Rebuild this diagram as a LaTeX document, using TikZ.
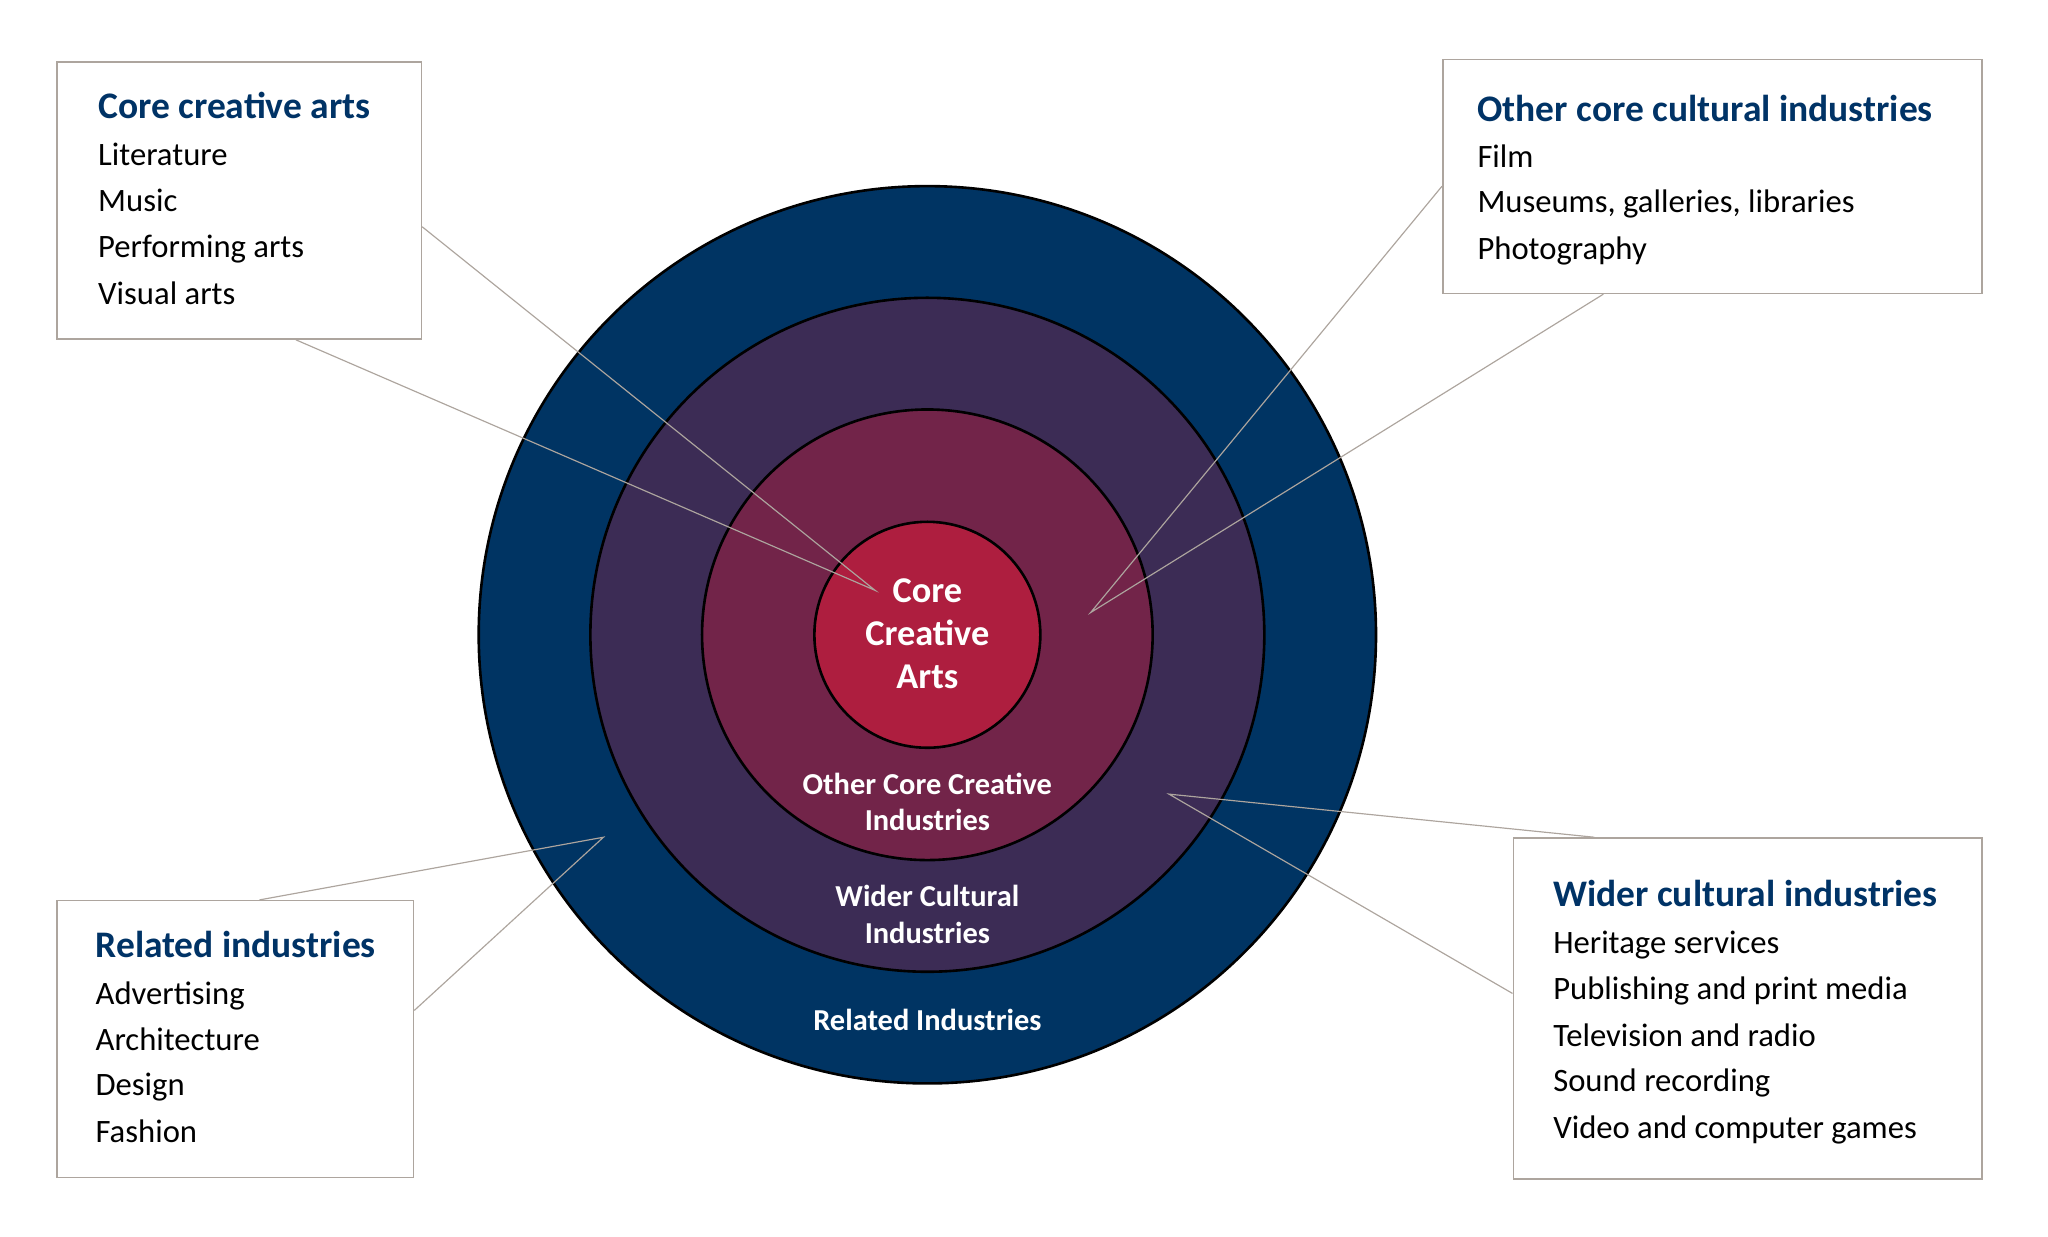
\documentclass[tikz,border=0pt]{standalone}
\usepackage{fontspec}
\setmainfont{Carlito}
\definecolor{navy}{HTML}{003463}
\definecolor{ringpurple}{HTML}{3C2C55}
\definecolor{ringplum}{HTML}{722449}
\definecolor{ringred}{HTML}{AE1E3F}
\definecolor{titleblue}{HTML}{003366}
\definecolor{linegrey}{HTML}{ADA59E}
\tikzset{
  ring/.style={circle, draw=black, line width=2pt, inner sep=0pt},
  infobox/.style={draw=linegrey, line width=1.2pt, fill=white, anchor=north west, inner sep=0pt},
  boxtitle/.style={anchor=base west, inner sep=0pt, text=titleblue, font=\fontsize{28.7}{34}\selectfont\bfseries},
  boxitem/.style={anchor=base west, inner sep=0pt, text=black, font=\fontsize{25}{30}\selectfont},
  ringlabel/.style={align=center, text=white, inner sep=0pt, font=\fontsize{23.3}{28}\selectfont\bfseries},
  corelabel/.style={align=center, text=white, inner sep=0pt, font=\fontsize{27.8}{33}\selectfont\bfseries},
  leader/.style={draw=linegrey, line width=0.9pt}
}
\begin{document}
\begin{tikzpicture}[x=1pt, y=-1pt]
\useasboundingbox (0,0) rectangle (1568,947);
% rings
\node[ring, fill=navy, minimum size=687pt] (r4) at (710,486) {};
\node[ring, fill=ringpurple, minimum size=516pt] (r3) at (710,486) {};
\node[ring, fill=ringplum, minimum size=345pt] (r2) at (710,486) {};
\node[ring, fill=ringred, minimum size=173pt] (r1) at (710,486) {};
% ring labels
\node[corelabel] (l1) at (710,485) {Core\\Creative\\Arts};
\node[ringlabel] (l2) at (710,614) {Other Core Creative\\Industries};
\node[ringlabel] (l3) at (710,700) {Wider Cultural\\Industries};
\node[ringlabel] (l4) at (710,781) {Related Industries};
% boxes
\node[infobox, minimum width=279pt, minimum height=212pt] (b1) at (43,47) {};
\node[infobox, minimum width=413pt, minimum height=179pt] (b2) at (1104,45) {};
\node[infobox, minimum width=273pt, minimum height=212pt] (b3) at (43,689) {};
\node[infobox, minimum width=359pt, minimum height=261pt] (b4) at (1158,641) {};
% box 1 text
\node[boxtitle] (t1) at (75,91) {Core creative arts};
\node[boxitem] (t1a) at (75,127) {Literature};
\node[boxitem] (t1b) at (75,162) {Music};
\node[boxitem] (t1c) at (75,197) {Performing arts};
\node[boxitem] (t1d) at (75,233) {Visual arts};
% box 2 text
\node[boxtitle] (t2) at (1131,93) {Other core cultural industries};
\node[boxitem] (t2a) at (1131,128) {Film};
\node[boxitem] (t2b) at (1131,163) {Museums, galleries, libraries};
\node[boxitem] (t2c) at (1131,199) {Photography};
% box 3 text
\node[boxtitle] (t3) at (73,733) {Related industries};
\node[boxitem] (t3a) at (73,769) {Advertising};
\node[boxitem] (t3b) at (73,804) {Architecture};
\node[boxitem] (t3c) at (73,839) {Design};
\node[boxitem] (t3d) at (73,875) {Fashion};
% box 4 text
\node[boxtitle] (t4) at (1189,694) {Wider cultural industries};
\node[boxitem] (t4a) at (1189,730) {Heritage services};
\node[boxitem] (t4b) at (1189,765) {Publishing and print media};
\node[boxitem] (t4c) at (1189,801) {Television and radio};
\node[boxitem] (t4d) at (1189,836) {Sound recording};
\node[boxitem] (t4e) at (1189,872) {Video and computer games};
% leader tips
\coordinate (p1) at (670,452);
\coordinate (p2) at (835,469);
\coordinate (p3) at (462,641);
\coordinate (p4) at (895,608);
% leaders
\draw[leader] ([yshift=-20pt]b1.east) -- (p1) -- ([xshift=43.5pt]b1.south);
\draw[leader] ([yshift=-7.5pt]b2.west) -- (p2) -- ([xshift=-83.5pt]b2.south);
\draw[leader] ([xshift=18.5pt]b3.north) -- (p3) -- ([yshift=22pt]b3.east);
\draw[leader] ([xshift=-117.5pt]b4.north) -- (p4) -- ([yshift=11.5pt]b4.west);
\end{tikzpicture}
\end{document}
